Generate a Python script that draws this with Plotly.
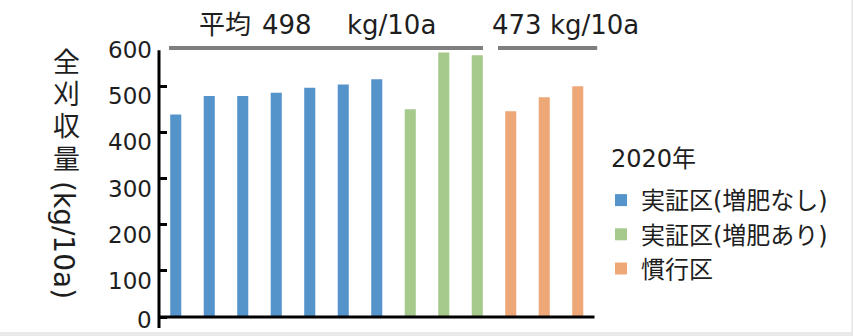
import plotly.graph_objects as go

# ---- data ----
series_names = ["実証区(増肥なし)", "実証区(増肥あり)", "慣行区"]
blue_vals = [439, 479, 479, 486, 497, 504, 515]
green_vals = [450, 573, 567]
orange_vals = [446, 476, 500]
avg_labels = ["498", "473"]
y_ticks = [0, 100, 200, 300, 400, 500, 600]
legend_title = "2020年"
title_chars = ["全", "刈", "収", "量"]
title_unit = "(kg/10a)"

colors = ["#5593CB", "#A6C98C", "#EEA878"]
FONT = "DejaVu Sans, Noto Sans CJK JP, sans-serif"
INK = "#1e1e1e"

# plot-area geometry (pixels)
W_FIG, H_FIG = 853, 336
L, R, T, B = 159, 599, 40, 328
PW, PH = R - L, B - T


def px(xp):
    return (xp - L) / PW


def py(yp):
    return (B - yp) / PH


fig = go.Figure()
start = 0
for name, vals, col in zip(series_names, [blue_vals, green_vals, orange_vals], colors):
    xs = list(range(start, start + len(vals)))
    start += len(vals)
    fig.add_trace(go.Bar(x=xs, y=vals, name=name, marker_color=col,
                         marker_line_width=0, width=0.33))

n_bars = start

shapes = [
    # y axis line
    dict(type="line", xref="paper", x0=0, x1=0, yref="y", y0=-23.8, y1=578,
         line=dict(color="black", width=3)),
    # x axis line
    dict(type="line", xref="x", x0=-0.5, x1=n_bars - 0.5, yref="y", y0=0, y1=0,
         line=dict(color="black", width=3)),
    # average bars
    dict(type="line", xref="x", x0=-0.2, x1=9.17, yref="y", y0=583, y1=583,
         line=dict(color="#7f7f7f", width=4)),
    dict(type="line", xref="x", x0=9.62, x1=12.58, yref="y", y0=583, y1=583,
         line=dict(color="#7f7f7f", width=4)),
    # bottom grey band / right edge
    dict(type="rect", xref="paper", yref="paper", x0=px(0), x1=px(W_FIG),
         y0=py(336), y1=py(332), fillcolor="#e9e9e9", line_width=0, layer="below"),
    dict(type="rect", xref="paper", yref="paper", x0=px(851.5), x1=px(W_FIG),
         y0=py(332), y1=py(0), fillcolor="#e4e4e4", line_width=0, layer="below"),
]

ann = []
# y tick labels (sit a little below their tick marks, as in the original)
for v in y_ticks:
    ann.append(dict(text=str(v), xref="paper", yref="y", x=0, y=v,
                    xanchor="right", yanchor="middle", xshift=-5,
                    yshift=-10 if v > 0 else -3, showarrow=False,
                    font=dict(size=23, family=FONT, color=INK)))
for i, ch in enumerate(title_chars):
    ann.append(dict(text=ch, xref="paper", yref="paper", x=px(66), y=py(62.5 + 32.2 * i),
                    xanchor="center", yanchor="middle",
                    showarrow=False, font=dict(size=27, family=FONT, color=INK)))
ann.append(dict(text=title_unit, textangle=90, xref="paper", yref="paper", x=px(64), y=py(240),
                xanchor="center", yanchor="middle",
                showarrow=False, font=dict(size=28, family=FONT, color=INK)))
top_font = dict(size=26, family=FONT, color=INK)
for txt, xp in [("平均", 197), (avg_labels[0], 260), ("kg/10a", 345), (avg_labels[1] + " kg/10a", 490)]:
    ann.append(dict(text=txt, xref="paper", yref="paper", x=px(xp), y=py(25),
                    xanchor="left", yanchor="middle", showarrow=False, font=top_font))
ann.append(dict(text=legend_title, xref="paper", yref="paper", x=px(609), y=py(159),
                xanchor="left", yanchor="middle", showarrow=False,
                font=dict(size=24, family=FONT, color=INK)))

fig.update_layout(
    width=W_FIG, height=H_FIG,
    margin=dict(l=L, r=W_FIG - R, t=T, b=H_FIG - B, pad=0, autoexpand=False),
    paper_bgcolor="white", plot_bgcolor="white",
    barmode="overlay",
    showlegend=True,
    legend=dict(font=dict(size=24, family=FONT, color=INK),
                x=px(601), y=py(178), xanchor="left", yanchor="top",
                bgcolor="rgba(0,0,0,0)", traceorder="normal"),
    xaxis=dict(range=[-0.5, -0.5 + PW / 33.5], showticklabels=False, showgrid=False,
               zeroline=False, showline=False, ticks="", automargin=False),
    yaxis=dict(range=[-23.8, 600.2], tickvals=y_ticks, ticks="inside", ticklen=8,
               tickwidth=3, tickcolor="black", showgrid=False, zeroline=False,
               showline=False, showticklabels=False, automargin=False),
    shapes=shapes,
    annotations=ann,
)

fig.write_html("out.html")
